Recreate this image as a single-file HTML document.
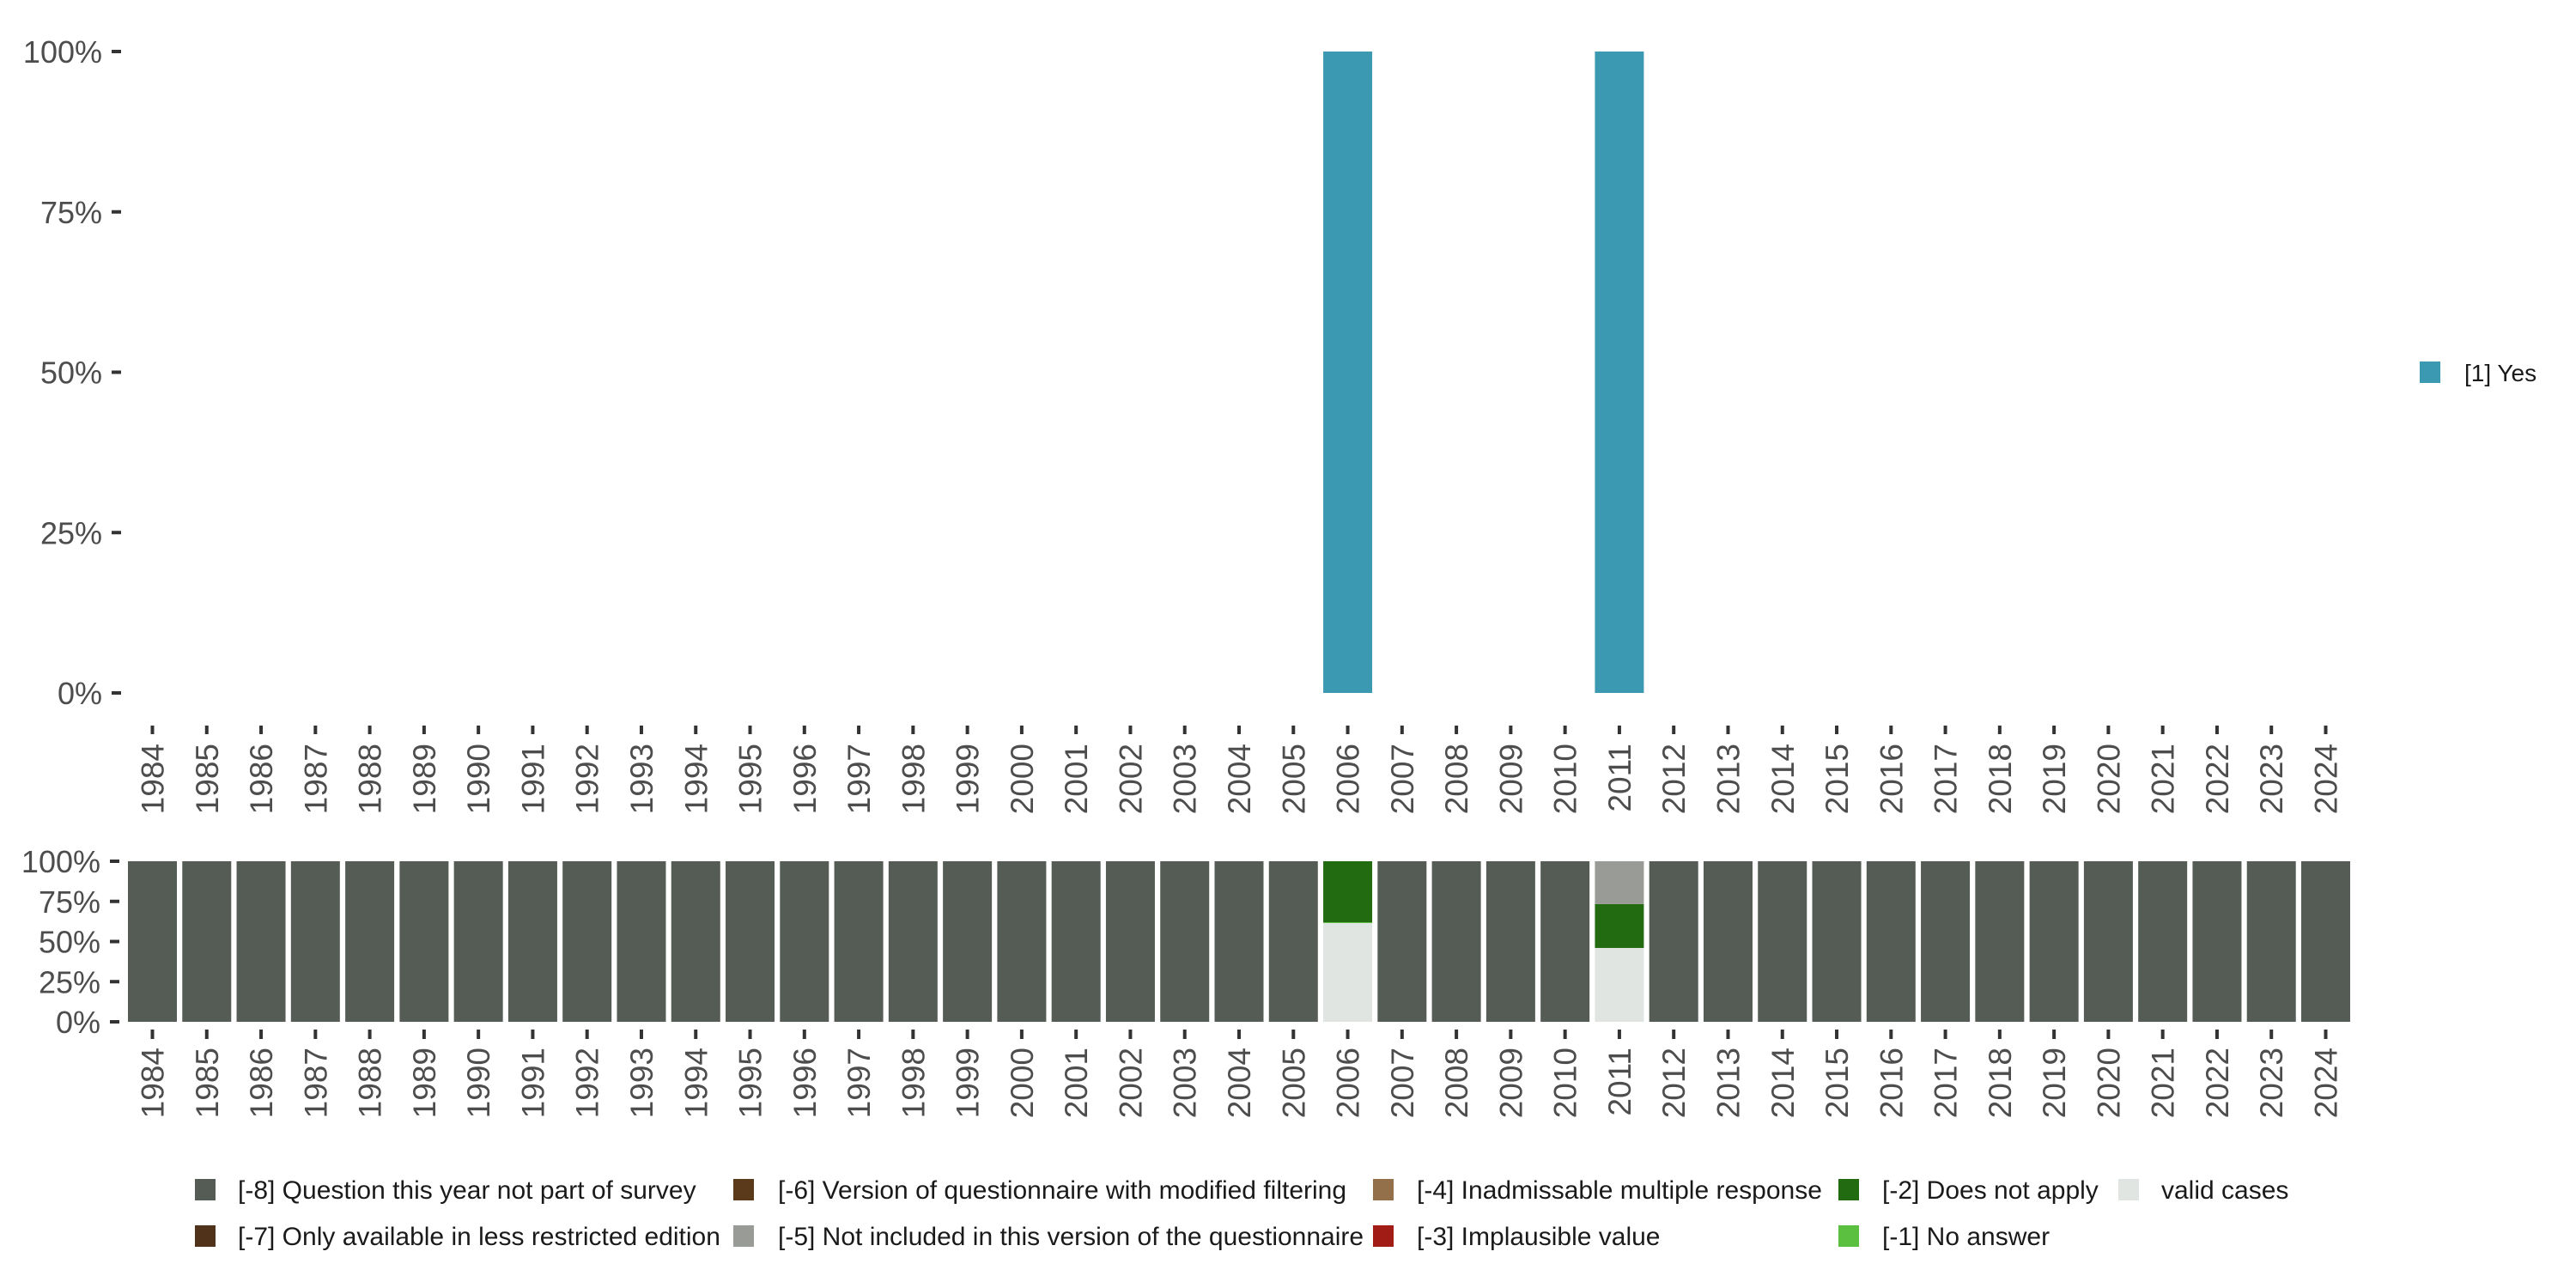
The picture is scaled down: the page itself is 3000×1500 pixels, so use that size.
<!DOCTYPE html>
<html><head><meta charset="utf-8"><style>
html,body{margin:0;padding:0;background:#fff;}
svg{display:block;font-family:"Liberation Sans",sans-serif;}
</style></head><body>
<svg id="chart" width="3000" height="1500" viewBox="0 0 3000 1500"></svg>
<script>
const years = [];
for (let y = 1984; y <= 2024; y++) years.push(String(y));
const yesYears = ["2006", "2011"];
const yesValues = [100, 100];
const topTicks = [0, 25, 50, 75, 100];
const bottomTicks = [0, 25, 50, 75, 100];
const catNames = ["valid", "-1", "-2", "-3", "-4", "-5", "-6", "-7", "-8"];
const catColors = ["#e1e5e1", "#5bbf3f", "#236b11", "#a01c14", "#94704a", "#999c96", "#5a3a1a", "#4f3219", "#555b55"];
const specialYears = ["2006", "2011"];
const special2006 = [61.5, 0.5, 38, 0, 0, 0, 0, 0, 0];
const special2011 = [46, 0, 27.3, 0, 0, 26.7, 0, 0, 0];
const legendLabels = ["[-8] Question this year not part of survey", "[-7] Only available in less restricted edition", "[-6] Version of questionnaire with modified filtering", "[-5] Not included in this version of the questionnaire", "[-4] Inadmissable multiple response", "[-3] Implausible value", "[-2] Does not apply", "[-1] No answer", "valid cases"];
const legendColors = ["#555b55", "#4f3219", "#5a3a1a", "#999c96", "#94704a", "#a01c14", "#236b11", "#5bbf3f", "#e1e5e1"];

const NS = "http://www.w3.org/2000/svg";
const svg = document.getElementById("chart");
function mk(tag, attrs, parent) {
  const e = document.createElementNS(NS, tag);
  for (const k in attrs) e.setAttribute(k, attrs[k]);
  (parent || svg).appendChild(e);
  return e;
}
const x0 = 177.5, step = (2708.5 - 177.5) / 40, bw = 57;
function xPos(yr) { return x0 + years.indexOf(yr) * step; }
function yTop(v) { return 807 - v / 100 * (807 - 60); }
function yBot(v) { return 1190 - v / 100 * (1190 - 1003); }

topTicks.forEach(t => {
  const y = yTop(t);
  const tk = mk("rect", {x: 130, y: y - 2, width: 11, height: 4, fill: "#333"});
  
  
  const tx = mk("text", {x: 119, y: y + 13, "text-anchor": "end", "font-size": 36, fill: "#4d4d4d"});
  tx.textContent = t + "%";
  
  
});
yesYears.forEach((yr, i) => {
  const v = yesValues[i];
  const r = mk("rect", {x: xPos(yr) - bw / 2, y: yTop(v), width: bw, height: yTop(0) - yTop(v), fill: "#3c99b2"});
  
  
});
years.forEach(yr => {
  const x = xPos(yr);
  const tk = mk("rect", {x: x - 2, y: 845, width: 4, height: 10, fill: "#333"});
  
  
  const tx = mk("text", {x: 0, y: 0, "text-anchor": "end", "font-size": 37, fill: "#4d4d4d", transform: `translate(${x + 13},866) rotate(-90)`});
  tx.textContent = yr;
  
  
});

bottomTicks.forEach(t => {
  const y = yBot(t);
  const tk = mk("rect", {x: 128, y: y - 2, width: 11, height: 4, fill: "#333"});
  
  
  const tx = mk("text", {x: 117, y: y + 13, "text-anchor": "end", "font-size": 36, fill: "#4d4d4d"});
  tx.textContent = t + "%";
  
  
});
years.forEach(yr => {
  const x = xPos(yr);
  let vals;
  if (yr === specialYears[0]) vals = special2006;
  else if (yr === specialYears[1]) vals = special2011;
  else vals = [0, 0, 0, 0, 0, 0, 0, 0, 100];
  let cum = 0;
  vals.forEach((v, i) => {
    if (v <= 0) return;
    const r = mk("rect", {x: x - bw / 2, y: yBot(cum + v), width: bw, height: yBot(cum) - yBot(cum + v), fill: catColors[i]});
    
    
    cum += v;
  });
  const tk = mk("rect", {x: x - 2, y: 1199, width: 4, height: 11, fill: "#333"});
  
  
  const tx = mk("text", {x: 0, y: 0, "text-anchor": "end", "font-size": 37, fill: "#4d4d4d", transform: `translate(${x + 13},1220) rotate(-90)`});
  tx.textContent = yr;
  
  
});

const lg = mk("rect", {x: 2818, y: 421, width: 24, height: 25, fill: "#3c99b2"});


const lt = mk("text", {x: 2870, y: 444, "font-size": 28, fill: "#1a1a1a"});
lt.textContent = "[1] Yes";



const colSq = [227, 854, 1599, 2141, 2467];
const colTx = [277, 906, 1650, 2192, 2517];
const rowY = [1386, 1440];
legendLabels.forEach((lab, i) => {
  const c = Math.floor(i / 2), r = i % 2;
  const sq = mk("rect", {x: colSq[c], y: rowY[r] - 13, width: 24, height: 25, fill: legendColors[i]});
  
  
  const t = mk("text", {x: colTx[c], y: rowY[r] + 10, "font-size": 30, fill: "#1a1a1a"});
  t.textContent = lab;
  
  
});
</script>
</body></html>
